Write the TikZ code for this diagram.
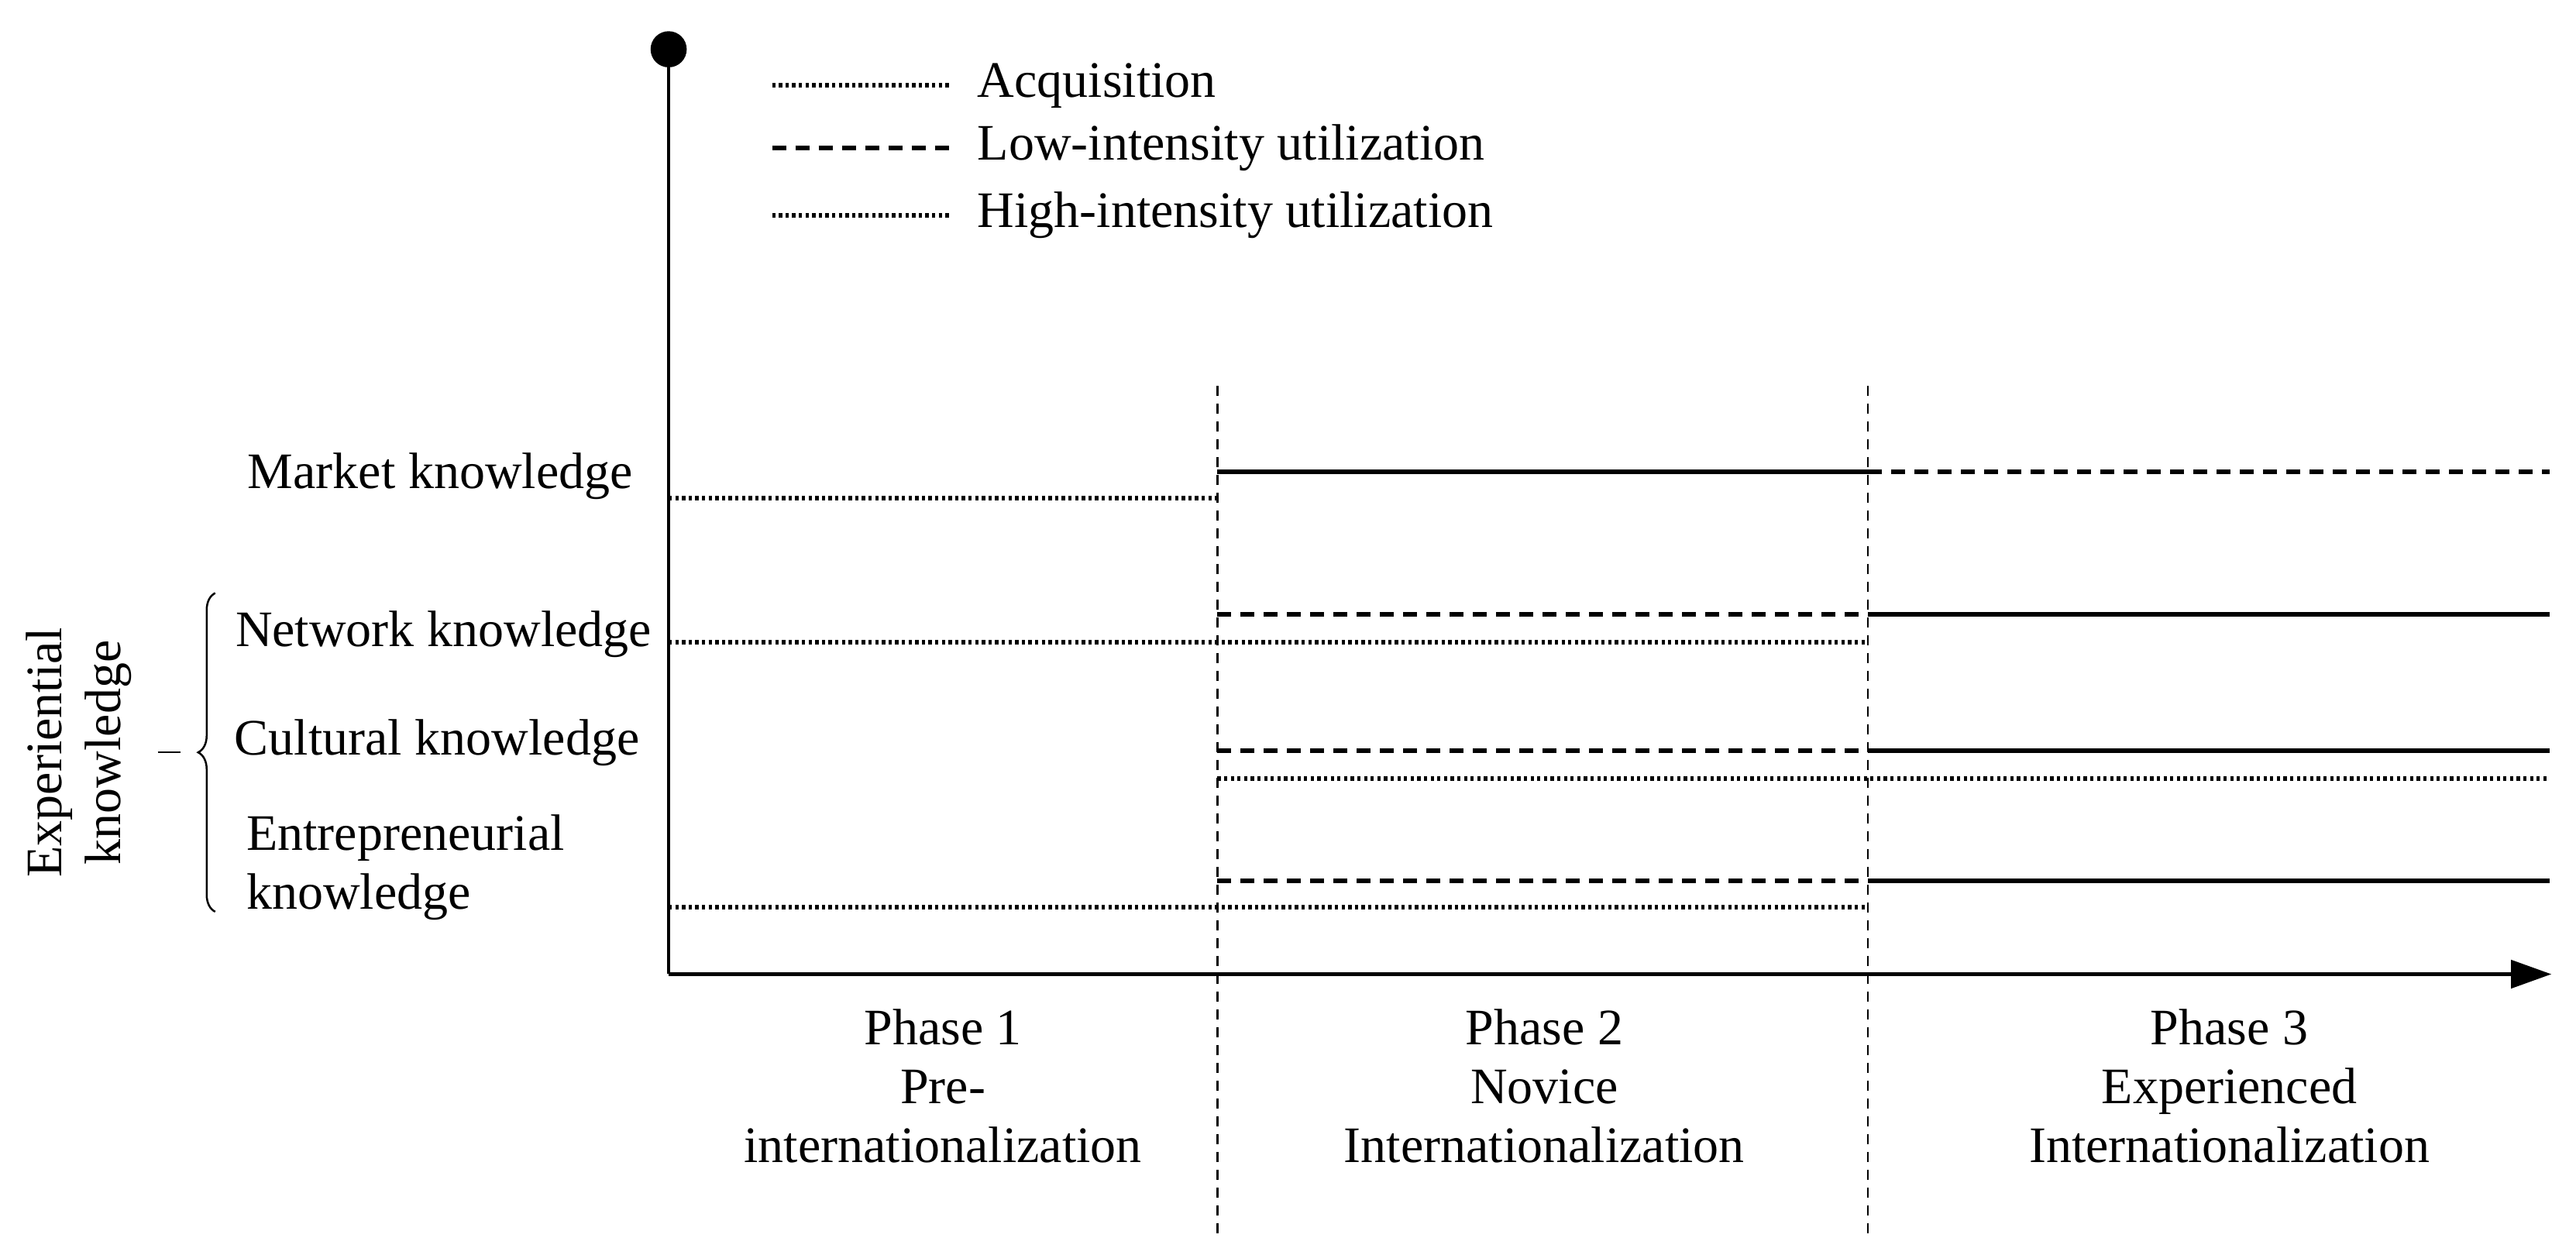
\documentclass[tikz,border=0pt]{standalone}
\usepackage{fontspec}
\setmainfont{Liberation Serif}
\usetikzlibrary{arrows.meta,decorations.pathreplacing}
\begin{document}
\begin{tikzpicture}[x=2.1205pt,y=-2.1205pt,
  font=\fontsize{66}{76}\selectfont,
  acq/.style={line width=6pt,dash pattern=on 4.3pt off 4.3pt},
  low/.style={line width=6pt,dash pattern=on 18pt off 12pt},
  high/.style={line width=6pt},
  sep/.style={line width=2.5pt,dash pattern=on 13pt off 10pt},
  lbl/.style={inner sep=0pt,anchor=center},
  phase/.style={inner sep=0pt,align=center,anchor=north}]
\useasboundingbox (0,0) rectangle (1568,763.5);
% axes
\coordinate (top) at (407,30);
\coordinate (orig) at (407,593);
\coordinate (xend) at (1553,593);
\fill (top) circle (11);
\draw[line width=4.5pt] (top) -- (orig);
\draw[line width=4.5pt,-{Triangle[length=52pt,width=36pt]}] (orig) -- (xend);
% phase separators
\coordinate (s1t) at (741,235); \coordinate (s1b) at (741,752);
\coordinate (s2t) at (1137,235); \coordinate (s2b) at (1137,752);
\draw[sep] (s1t) -- (s1b);
\draw[sep] (s2t) -- (s2b);
% legend
\coordinate (l1a) at (470,52); \coordinate (l1b) at (578,52);
\coordinate (l2a) at (470,90); \coordinate (l2b) at (578,90);
\coordinate (l3a) at (470,131); \coordinate (l3b) at (578,131);
\draw[acq] (l1a) -- (l1b);
\draw[low] (l2a) -- (l2b);
\draw[acq] (l3a) -- (l3b);
\node[anchor=west,inner sep=0pt] (t1) at (595,52) {Acquisition};
\node[anchor=west,inner sep=0pt] (t2) at (595,90) {Low-intensity utilization};
\node[anchor=west,inner sep=0pt] (t3) at (595,131) {High-intensity utilization};
% market
\draw[acq] (407,303) -- (741,303);
\draw[high] (741,287) -- (1137,287);
\draw[low] (1137,287) -- (1552,287);
% network
\draw[low] (741,374) -- (1137,374);
\draw[high] (1137,374) -- (1552,374);
\draw[acq] (407,391) -- (1137,391);
% cultural
\draw[low] (741,457) -- (1137,457);
\draw[high] (1137,457) -- (1552,457);
\draw[acq] (741,474) -- (1552,474);
% entrepreneurial
\draw[low] (741,536) -- (1137,536);
\draw[high] (1137,536) -- (1552,536);
\draw[acq] (407,552) -- (1137,552);
% labels
\node[lbl] (mk) at (268,290) {Market knowledge};
\node[lbl] (nk) at (270,386) {Network knowledge};
\node[lbl] (ck) at (266,452) {Cultural knowledge};
\node[inner sep=0pt,anchor=west,align=left] (ek) at (150,528) {Entrepreneurial\\knowledge};
% brace
\draw[line width=2.5pt,decorate,decoration={brace,amplitude=22pt}] (131,555) -- (131,361) node[midway] (bt) {};
\coordinate (bl) at (96,458);
\draw[line width=2.5pt] (bl) -- ++(14,0);
\node[rotate=90,align=center,inner sep=0pt] (exp) at (48,458) {Experiential\\knowledge};
% phases
\node[phase] (p1) at (574,614) {Phase 1\\Pre-\\internationalization};
\node[phase] (p2) at (940,614) {Phase 2\\Novice\\Internationalization};
\node[phase] (p3) at (1357,614) {Phase 3\\Experienced\\Internationalization};
\end{tikzpicture}
\end{document}
